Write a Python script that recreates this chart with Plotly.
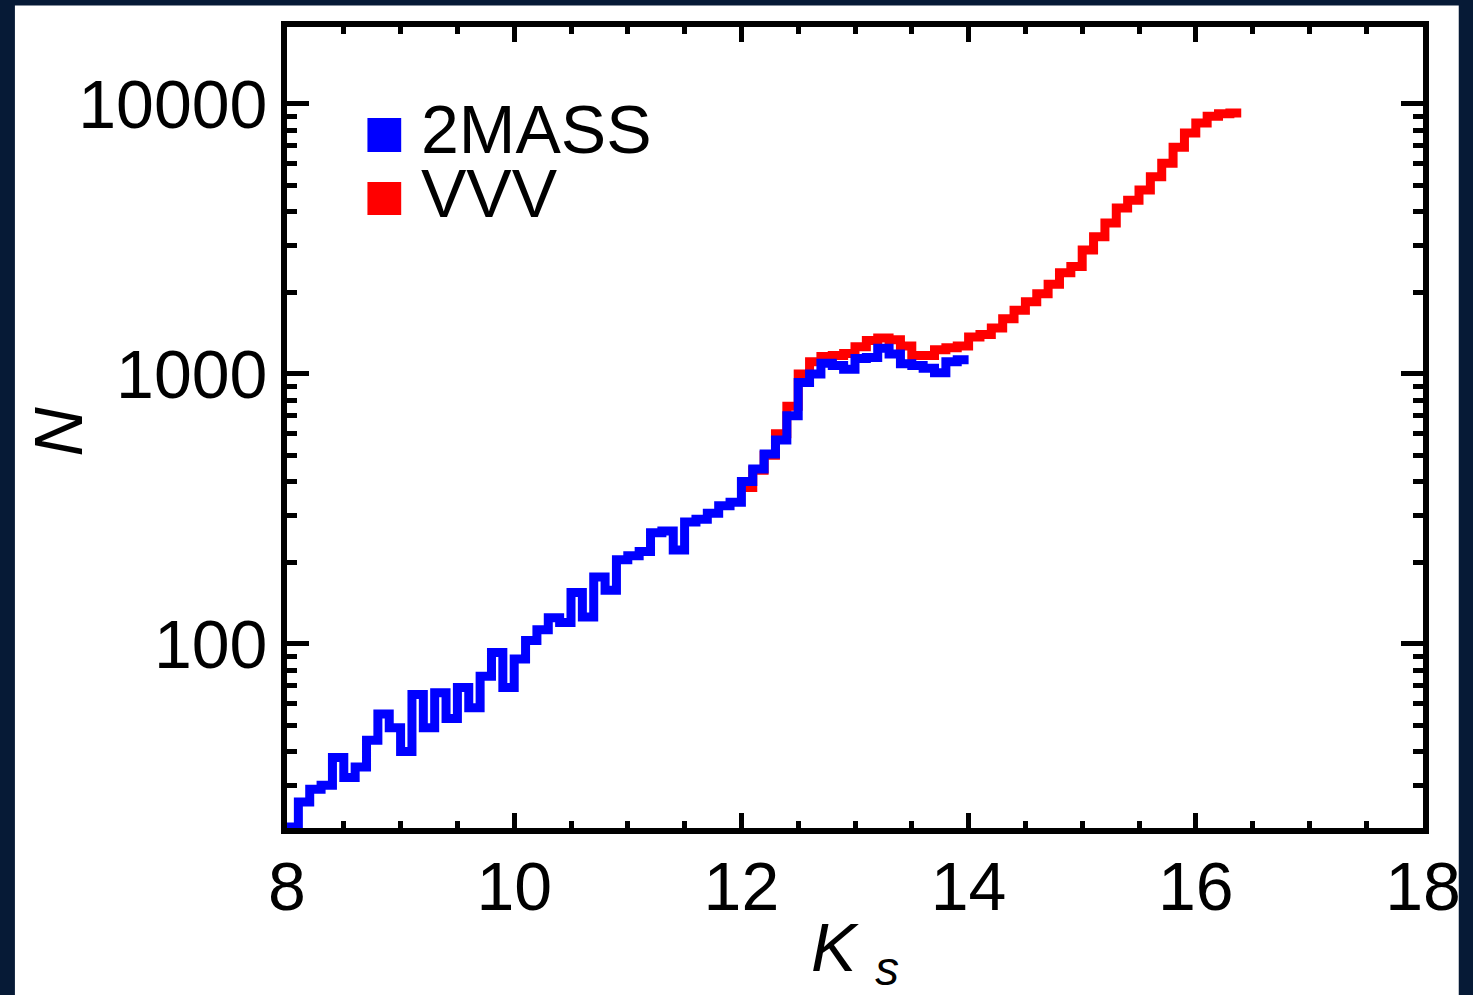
import plotly.graph_objects as go

# ---------------- data ----------------
# 2MASS histogram: bin left edges (Ks mag) and counts
mass_edges = [8.0, 8.1, 8.2, 8.3, 8.4, 8.5, 8.6, 8.7, 8.8, 8.9,
              9.0, 9.1, 9.2, 9.3, 9.4, 9.5, 9.6, 9.7, 9.8, 9.9,
              10.0, 10.1, 10.2, 10.3, 10.4, 10.5, 10.6, 10.7, 10.8, 10.9,
              11.0, 11.1, 11.2, 11.3, 11.4, 11.5, 11.6, 11.7, 11.8, 11.9,
              12.0, 12.1, 12.2, 12.3, 12.4, 12.5, 12.6, 12.7, 12.8, 12.9,
              13.0, 13.1, 13.2, 13.3, 13.4, 13.5, 13.6, 13.7, 13.8, 13.9]
mass_counts = [21, 26, 29, 30, 38, 32, 35, 44, 55, 49,
               40, 65, 49, 66, 53, 69, 58, 76, 93, 69,
               88, 103, 113, 125, 120, 155, 126, 177, 158, 205,
               212, 220, 258, 262, 223, 283, 290, 305, 325, 335,
               400, 445, 505, 570, 700, 930, 1000, 1095, 1075, 1040,
               1140, 1150, 1245, 1185, 1090, 1075, 1050, 1010, 1110, 1130]
mass_last_edge = 14.0

# VVV histogram
vvv_edges = [12.0, 12.1, 12.2, 12.3, 12.4, 12.5, 12.6, 12.7, 12.8, 12.9,
             13.0, 13.1, 13.2, 13.3, 13.4, 13.5, 13.6, 13.7, 13.8, 13.9,
             14.0, 14.1, 14.2, 14.3, 14.4, 14.5, 14.6, 14.7, 14.8, 14.9,
             15.0, 15.1, 15.2, 15.3, 15.4, 15.5, 15.6, 15.7, 15.8, 15.9,
             16.0, 16.1, 16.2, 16.3]
vvv_counts = [380, 440, 500, 600, 760, 1000, 1110, 1160, 1170, 1190,
              1260, 1330, 1360, 1340, 1270, 1170, 1170, 1230, 1250, 1270,
              1370, 1400, 1480, 1600, 1720, 1850, 1980, 2150, 2370, 2500,
              2880, 3220, 3620, 4120, 4400, 4800, 5370, 6030, 6920, 7800,
              8500, 9000, 9200, 9250]
vvv_last_edge = 16.4

x_ticks = [8, 10, 12, 14, 16, 18]
y_ticks = [100, 1000, 10000]
y_ticktext = ["100", "1000", "10000"]
series_names = ["2MASS", "VVV"]
series_colors = ["#0000ff", "#ff0000"]

# ---------------- layout geometry ----------------
W, H = 1473, 995
L, R, T, B = 287, 42, 27, 167
PW, PH = W - L - R, H - T - B


def px(x):
    return (x - L) / PW


def py(y):
    return (H - B - y) / PH


FONT = "Liberation Sans, Arial, Helvetica, sans-serif"

fig = go.Figure()

fig.add_trace(go.Scatter(
    x=vvv_edges + [vvv_last_edge], y=vvv_counts + [vvv_counts[-1]],
    mode="lines", line=dict(color=series_colors[1], width=9, shape="hv"),
    name=series_names[1], showlegend=False))
fig.add_trace(go.Scatter(
    x=mass_edges + [mass_last_edge], y=mass_counts + [mass_counts[-1]],
    mode="lines", line=dict(color=series_colors[0], width=9, shape="hv"),
    name=series_names[0], showlegend=False))

axis_common = dict(
    showline=True, linewidth=6, linecolor="black", mirror="allticks",
    ticks="inside", tickcolor="black", tickwidth=5,
    showgrid=False, zeroline=False,
    tickfont=dict(family=FONT, size=68, color="black"),
)

fig.update_xaxes(
    range=[8, 18], tickvals=x_ticks, ticklen=15, ticklabelstandoff=-6,
    minor=dict(dtick=0.5, ticks="inside", ticklen=7, tickwidth=5, tickcolor="black", showgrid=False),
    title=dict(text="<i>K</i> <sub><i>s</i></sub>", font=dict(family=FONT, size=68, color="black"), standoff=8),
    **axis_common)
fig.update_yaxes(
    type="log", range=[1.3185, 4.285], tickvals=y_ticks, ticktext=y_ticktext, ticklen=22,
    minor=dict(dtick="D1", ticks="inside", ticklen=10, tickwidth=5, tickcolor="black", showgrid=False),
    **axis_common)

shapes = [
    # white slide panel
    dict(type="rect", xref="paper", yref="paper", layer="below",
         x0=px(13), x1=px(1467), y0=py(1000), y1=py(5.5),
         fillcolor="white", line=dict(width=0)),
    # legend swatches
    dict(type="rect", xref="paper", yref="paper",
         x0=px(368), x1=px(402), y0=py(152), y1=py(118),
         fillcolor=series_colors[0], line=dict(width=0)),
    dict(type="rect", xref="paper", yref="paper",
         x0=px(368), x1=px(402), y0=py(215), y1=py(182),
         fillcolor=series_colors[1], line=dict(width=0)),
]

annotations = [
    dict(text=series_names[0], xref="paper", yref="paper", x=px(420), y=py(129),
         xanchor="left", yanchor="middle", showarrow=False, height=60, valign="middle",
         font=dict(family=FONT, size=68, color="black")),
    dict(text=series_names[1], xref="paper", yref="paper", x=px(420), y=py(193),
         xanchor="left", yanchor="middle", showarrow=False, height=60, valign="middle",
         font=dict(family=FONT, size=68, color="black")),
    # y-axis title
    dict(text="<i>N</i>", xref="paper", yref="paper", x=px(56), y=py(432),
         xanchor="center", yanchor="middle", textangle=-90, showarrow=False,
         font=dict(family=FONT, size=68, color="black")),
]

fig.update_layout(
    width=W, height=H,
    margin=dict(l=L, r=R, t=T, b=B, pad=0),
    paper_bgcolor="#061a36", plot_bgcolor="rgba(0,0,0,0)",
    shapes=shapes, annotations=annotations, showlegend=False,
    font=dict(family=FONT, color="black"),
)

fig.write_html("out.html")
